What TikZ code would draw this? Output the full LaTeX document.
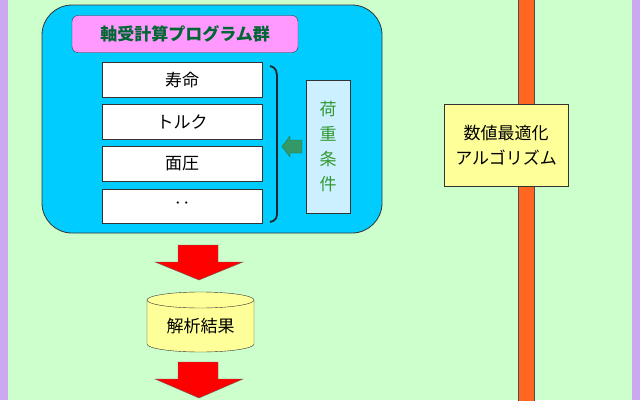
\documentclass[tikz,border=0pt]{standalone}
\usepackage{fontspec}
\newfontfamily\cjk{Noto Sans CJK JP}
\definecolor{bg}{HTML}{CCFFCC}
\definecolor{lav}{HTML}{CCA8F0}
\definecolor{blu}{HTML}{00CCFF}
\definecolor{pnk}{HTML}{FF99FF}
\definecolor{ltb}{HTML}{CCF0FF}
\definecolor{ylw}{HTML}{FFFF99}
\definecolor{org}{HTML}{FF6622}
\definecolor{dgr}{HTML}{006633}
\definecolor{tgr}{HTML}{339933}
\definecolor{agr}{HTML}{339966}
\tikzset{
 box/.style={draw=black!80,fill=white,minimum width=160pt,minimum height=35pt,font=\cjk\fontsize{17}{20}\selectfont,inner sep=0pt},
 redarrow/.style={draw=black!60,fill=red,line join=miter}
}
\begin{document}
\begin{tikzpicture}[x=1pt,y=-1pt]
\useasboundingbox (0,0) rectangle (640,400);
\fill[bg] (0,0) rectangle (640,400);
\fill[lav] (0,0) rectangle (8,400);
\fill[lav] (632,0) rectangle (640,400);
\draw[black!70,fill=org,line width=0.8pt] (518,-2) rectangle (534,402);
\draw[black!80,fill=blu,rounded corners=30pt,line width=0.8pt] (42,5) rectangle (382,233);
\node[draw=black!80,fill=pnk,rounded corners=6pt,minimum width=226pt,minimum height=37pt,font=\cjk\fontsize{17}{20}\selectfont\bfseries,text=dgr] (title) at (185,34) {軸受計算プログラム群};
\node[box] (b1) at (182,80) {寿命};
\node[box] (b2) at (182,122) {トルク};
\node[box] (b3) at (182,163.5) {面圧};
\node[box,minimum height=34pt] (b4) at (182,206) {‥};
\draw[line width=1.8pt,black!85] (270,66) .. controls (277,68) and (277,72) .. (277,80) -- (277,210) .. controls (277,218) and (277,220) .. (270,222);
\node[draw=black!80,fill=ltb,minimum width=44pt,minimum height=133pt,inner sep=0pt,font=\cjk\fontsize{17}{25}\selectfont,text=tgr,align=center] (load) at (328,146.5) {荷\\重\\条\\件};
\coordinate (gtip) at (282,146.5);
\draw[draw=agr!80!black,fill=agr] (gtip) -- (290,136) -- (290,140) -- (302,140) -- (302,153) -- (290,153) -- (290,157) -- cycle;
\coordinate (r1tip) at (199,280);
\draw[redarrow] (r1tip) -- (155,262) -- (178,262) -- (178,245) -- (218,245) -- (218,262) -- (243,262) -- cycle;
\coordinate (r2tip) at (199,398);
\draw[redarrow] (r2tip) -- (155,379) -- (178,379) -- (178,362) -- (218,362) -- (218,379) -- (243,379) -- cycle;
\draw[black!80,fill=ylw] (147,300) -- (147,344) arc[start angle=180,end angle=360,x radius=53.5,y radius=-8] -- (254,300) arc[start angle=0,end angle=180,x radius=53.5,y radius=-8] -- cycle;
\draw[black!80] (147,300) arc[start angle=180,end angle=360,x radius=53.5,y radius=-8];
\node[font=\cjk\fontsize{17}{20}\selectfont] (res) at (200.5,326) {解析結果};
\node[draw=black!80,fill=ylw,minimum width=124pt,minimum height=82pt,font=\cjk\fontsize{17}{25}\selectfont,align=center] (algo) at (506,145) {数値最適化\\アルゴリズム};
\end{tikzpicture}
\end{document}
